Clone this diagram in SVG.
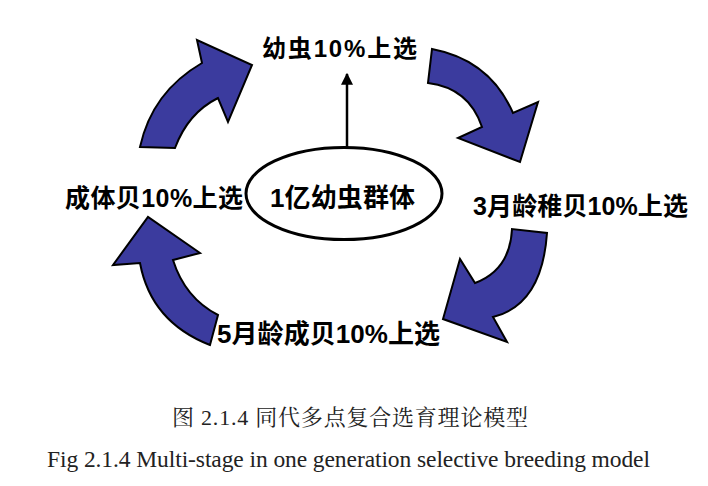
<svg xmlns="http://www.w3.org/2000/svg" width="708" height="486" viewBox="0 0 708 486">
<defs>
<style>
.arr{fill:#3b3b9e;stroke:#000;stroke-width:2;stroke-linejoin:miter}
.lbl{font-family:"Liberation Sans","Noto Sans CJK SC",sans-serif;font-weight:bold;fill:#000}
.cap{font-family:"Liberation Serif","Noto Serif CJK SC","Noto Sans CJK SC",serif;fill:#222}
</style>
<marker id="ah" viewBox="0 0 10 10" refX="9" refY="5" markerWidth="12" markerHeight="12" markerUnits="userSpaceOnUse" orient="auto">
<path d="M0,0 L10,5 L0,10 Z" fill="#000"/>
</marker>
</defs>
<rect width="708" height="486" fill="#fff"/>
<g id="connectors">
<path class="arr" d="M140,147 Q152,92 202,63 L197,40 L252,65 L228,122 L218,98 Q188,113 175,148 Z"/>
<path class="arr" d="M432,49 Q490,60 513,113 L538,102 L520,162 L458,138 L482,127 Q469,88 428,83 Z"/>
<path class="arr" d="M547,233 Q542,305 493,317 L507,342 L443,319 L460,259 L475,283 Q510,270 512,229 Z"/>
<path class="arr" d="M210,345 Q151,322 140,263 L113,265 L148,217 L200,253 L173,260 Q185,298 218,315 Z"/>
<line x1="347" y1="147" x2="347" y2="74" stroke="#000" stroke-width="2.5" marker-end="url(#ah)"/>
</g>
<g id="n-top"><text class="lbl" x="262" y="57" font-size="24" textLength="155">幼虫10%上选</text></g>
<g id="n-center">
<ellipse cx="344" cy="193.5" rx="98" ry="46" fill="#fff" stroke="#000" stroke-width="3"/>
<text class="lbl" x="270" y="207" font-size="26" textLength="145">1亿幼虫群体</text>
</g>
<g id="n-right"><text class="lbl" x="473" y="215" font-size="25" textLength="215">3月龄稚贝10%上选</text></g>
<g id="n-bottom"><text class="lbl" x="217" y="343" font-size="26" textLength="223">5月龄成贝10%上选</text></g>
<g id="n-left"><text class="lbl" x="65" y="207" font-size="25" textLength="178">成体贝10%上选</text></g>
<g id="captions">
<text class="cap" x="172" y="425" font-size="22" textLength="356">图 2.1.4 同代多点复合选育理论模型</text>
<text class="cap" x="47" y="467" font-size="23.5" textLength="603">Fig 2.1.4 Multi-stage in one generation selective breeding model</text>
</g>
</svg>
